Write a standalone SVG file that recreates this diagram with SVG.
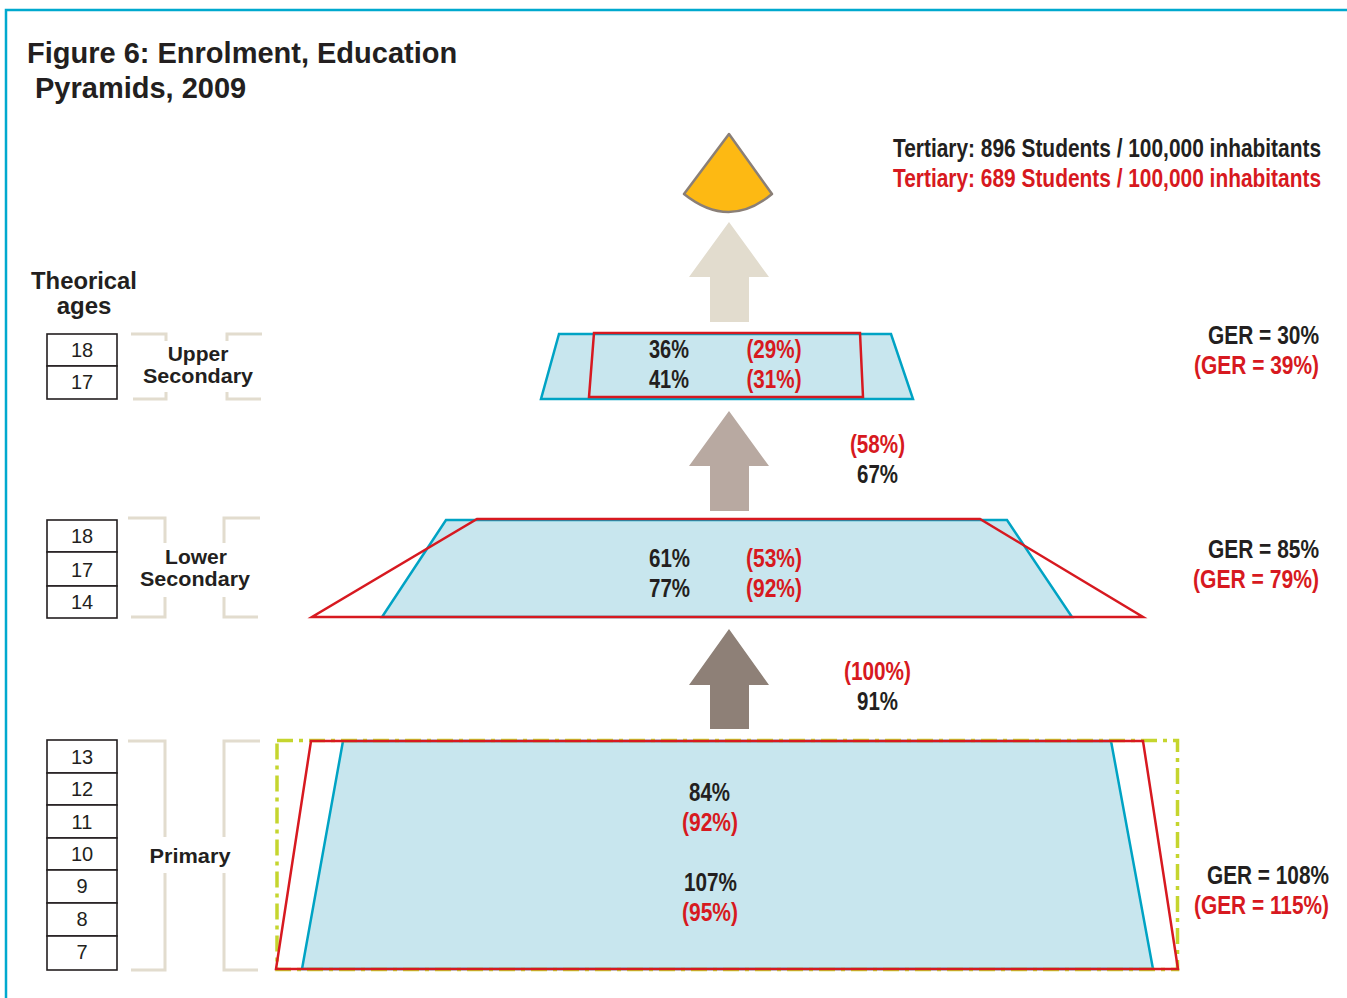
<svg xmlns="http://www.w3.org/2000/svg" width="1347" height="998" viewBox="0 0 1347 998">
<style>
.title{font-family:"Liberation Sans",Arial,sans-serif;font-weight:bold;font-size:29px;fill:#231F20}
.lbl{font-family:"Liberation Sans",Arial,sans-serif;font-weight:bold;font-size:21px;fill:#231F20;text-anchor:middle}
.big{font-size:24px}
.age{font-family:"Liberation Sans",Arial,sans-serif;font-size:20px;fill:#231F20;text-anchor:middle}
.n{font-family:"Liberation Sans Narrow","Liberation Sans",Arial,sans-serif;font-weight:bold;font-size:25px;fill:#231F20;text-anchor:middle}
.r{fill:#D71920}
.e{text-anchor:end}
.box{fill:#fff;stroke:#231F20;stroke-width:1.6}
.br{fill:none;stroke:#E2DCCE;stroke-width:3}
.blue{fill:#C8E6EE;stroke:#00A3C4;stroke-width:2.5;stroke-linejoin:miter}
.red{fill:none;stroke:#D71920;stroke-width:2.5}
</style>
<rect x="0" y="0" width="1347" height="998" fill="#fff"/>
<path d="M6,998 V10 H1347" fill="none" stroke="#00A9CE" stroke-width="2.5"/>
<g id="title">
<text class="title" x="27" y="63">Figure 6: Enrolment, Education</text>
<text class="title" x="35" y="98">Pyramids, 2009</text>
</g>
<g id="connectors">
<path d="M729,222 L769,277 L749,277 L749,322 L710,322 L710,277 L689,277 Z" fill="#E2DCCE"/>
<path d="M729,411 L769,466 L749,466 L749,511 L710,511 L710,466 L689,466 Z" fill="#B8A9A1"/>
<path d="M729,629 L769,685 L749,685 L749,729 L710,729 L710,685 L689,685 Z" fill="#8E8077"/>
</g>
<g id="tertiary">
<path d="M729,134 L684,194 Q729,230 772,194 Z" fill="#FDB913" stroke="#8A7F77" stroke-width="2.5" stroke-linejoin="round"/>
<text class="n e" transform="translate(1321,157) scale(0.82,1)" textLength="522" lengthAdjust="spacingAndGlyphs">Tertiary: 896 Students / 100,000 inhabitants</text>
<text class="n e r" transform="translate(1321,187) scale(0.82,1)" textLength="522" lengthAdjust="spacingAndGlyphs">Tertiary: 689 Students / 100,000 inhabitants</text>
</g>
<g id="ages-label">
<text class="lbl big" x="84" y="289" textLength="106" lengthAdjust="spacingAndGlyphs">Theorical</text>
<text class="lbl big" x="84" y="314">ages</text>
</g>
<g id="upper-ages">
<rect class="box" x="47" y="334" width="70" height="32"/>
<rect class="box" x="47" y="366" width="70" height="33"/>
<text class="age" x="82" y="357">18</text>
<text class="age" x="82" y="389">17</text>
<path class="br" d="M131,334 H166 V341 M166,392 V399 H133 M227,341 V334 H262 M227,392 V399 H261"/>
<text class="lbl" x="198" y="361">Upper</text>
<text class="lbl" x="198" y="383" textLength="110" lengthAdjust="spacingAndGlyphs">Secondary</text>
</g>
<g id="upper-secondary">
<polygon class="blue" points="559,334 891,334 913,399 541,399"/>
<polygon class="red" points="594,333 860,333 863,397 589,397"/>
<text class="n" x="669" y="358" textLength="40" lengthAdjust="spacingAndGlyphs">36%</text>
<text class="n r" x="774" y="358" textLength="55" lengthAdjust="spacingAndGlyphs">(29%)</text>
<text class="n" x="669" y="388" textLength="40" lengthAdjust="spacingAndGlyphs">41%</text>
<text class="n r" x="774" y="388" textLength="55" lengthAdjust="spacingAndGlyphs">(31%)</text>
<text class="n e" transform="translate(1319,344) scale(0.82,1)" textLength="135.4" lengthAdjust="spacingAndGlyphs">GER = 30%</text>
<text class="n e r" transform="translate(1319,374) scale(0.82,1)" textLength="152.4" lengthAdjust="spacingAndGlyphs">(GER = 39%)</text>
</g>
<g id="transition-upper">
<text class="n r" x="877.5" y="453" textLength="55" lengthAdjust="spacingAndGlyphs">(58%)</text>
<text class="n" x="877.5" y="483" textLength="41" lengthAdjust="spacingAndGlyphs">67%</text>
</g>
<g id="lower-ages">
<rect class="box" x="47" y="520" width="70" height="32"/>
<rect class="box" x="47" y="552" width="70" height="34"/>
<rect class="box" x="47" y="586" width="70" height="32"/>
<text class="age" x="82" y="543">18</text>
<text class="age" x="82" y="577">17</text>
<text class="age" x="82" y="609">14</text>
<path class="br" d="M128,518 H165 V543 M165,597 V617 H131 M224,543 V518 H260 M224,597 V617 H258"/>
<text class="lbl" x="196" y="564">Lower</text>
<text class="lbl" x="195" y="586" textLength="110" lengthAdjust="spacingAndGlyphs">Secondary</text>
</g>
<g id="lower-secondary">
<polygon class="blue" points="446,520 1007,520 1072,617 382,617"/>
<polygon class="red" points="477,519 980,519 1143,617 312,617"/>
<text class="n" x="669.5" y="567" textLength="41" lengthAdjust="spacingAndGlyphs">61%</text>
<text class="n r" x="774" y="567" textLength="56" lengthAdjust="spacingAndGlyphs">(53%)</text>
<text class="n" x="669.5" y="597" textLength="41" lengthAdjust="spacingAndGlyphs">77%</text>
<text class="n r" x="774" y="597" textLength="56" lengthAdjust="spacingAndGlyphs">(92%)</text>
<text class="n e" transform="translate(1319,558) scale(0.82,1)" textLength="135.4" lengthAdjust="spacingAndGlyphs">GER = 85%</text>
<text class="n e r" transform="translate(1319,588) scale(0.82,1)" textLength="153.7" lengthAdjust="spacingAndGlyphs">(GER = 79%)</text>
</g>
<g id="transition-lower">
<text class="n r" x="877.5" y="680" textLength="67" lengthAdjust="spacingAndGlyphs">(100%)</text>
<text class="n" x="877.5" y="710" textLength="41" lengthAdjust="spacingAndGlyphs">91%</text>
</g>
<g id="primary-ages">
<rect class="box" x="47" y="740" width="70" height="33"/>
<rect class="box" x="47" y="773" width="70" height="32"/>
<rect class="box" x="47" y="805" width="70" height="33"/>
<rect class="box" x="47" y="838" width="70" height="32"/>
<rect class="box" x="47" y="870" width="70" height="33"/>
<rect class="box" x="47" y="903" width="70" height="33"/>
<rect class="box" x="47" y="936" width="70" height="34"/>
<text class="age" x="82" y="764">13</text>
<text class="age" x="82" y="796">12</text>
<text class="age" x="82" y="829">11</text>
<text class="age" x="82" y="861">10</text>
<text class="age" x="82" y="893">9</text>
<text class="age" x="82" y="926">8</text>
<text class="age" x="82" y="959">7</text>
<path class="br" d="M128,741 H165 V837 M165,873 V970 H131 M224,837 V741 H260 M224,873 V970 H258"/>
<text class="lbl" x="190" y="863" textLength="81" lengthAdjust="spacingAndGlyphs">Primary</text>
</g>
<g id="primary">
<polygon class="blue" points="343,741 1111,741 1153,969 302,969"/>
<rect x="277" y="740.5" width="900.5" height="229" fill="none" stroke="#C5D52E" stroke-width="3.5" stroke-dasharray="16,6,4,6"/>
<polygon class="red" points="311,741 1143,741 1178,969 276,969"/>
<text class="n" x="709.5" y="801" textLength="41" lengthAdjust="spacingAndGlyphs">84%</text>
<text class="n r" x="710" y="831" textLength="56" lengthAdjust="spacingAndGlyphs">(92%)</text>
<text class="n" x="710.5" y="891" textLength="53" lengthAdjust="spacingAndGlyphs">107%</text>
<text class="n r" x="710" y="921" textLength="56" lengthAdjust="spacingAndGlyphs">(95%)</text>
<text class="n e" transform="translate(1329,884) scale(0.82,1)" textLength="148.8" lengthAdjust="spacingAndGlyphs">GER = 108%</text>
<text class="n e r" transform="translate(1329,914) scale(0.82,1)" textLength="164.6" lengthAdjust="spacingAndGlyphs">(GER = 115%)</text>
</g>
</svg>
